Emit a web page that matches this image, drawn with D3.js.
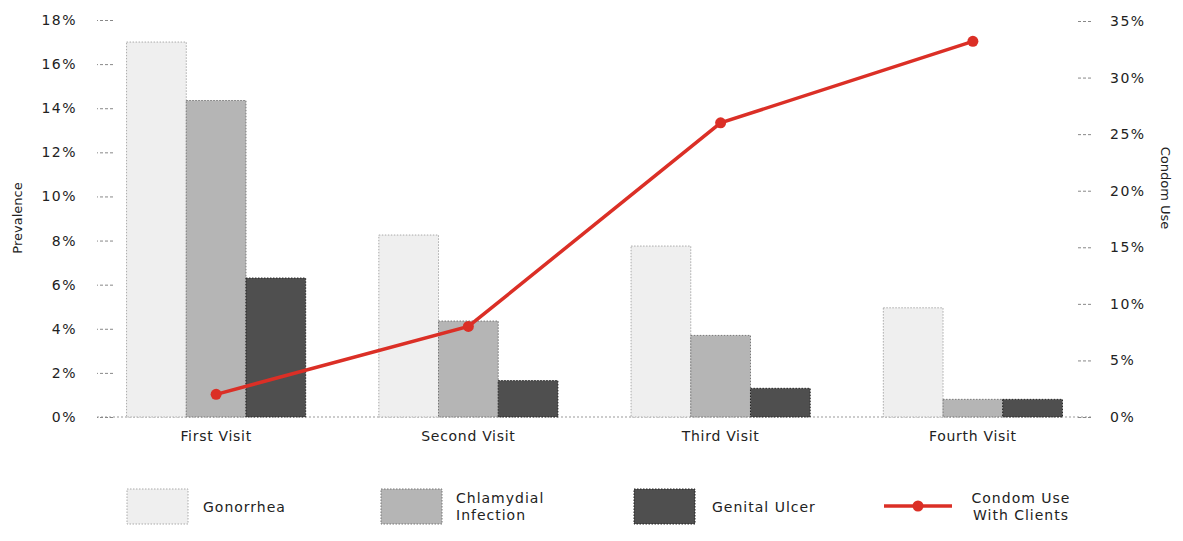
<!DOCTYPE html>
<html>
<head>
<meta charset="utf-8">
<script src="https://cdn.jsdelivr.net/npm/d3@7"></script>
<style>
  body { margin: 0; background: #fff; }
  text { font-family: 'DejaVu Sans', sans-serif; fill: #222; }
</style>
</head>
<body>
<div id="canvas"></div>
<script>
const visits = ['First Visit', 'Second Visit', 'Third Visit', 'Fourth Visit']
const diseases = ['Gonorrhea', 'Chlamydial Infection', 'Genital Ulcer']
const gonorrhea = [17.0, 8.25, 7.75, 4.95]
const chlamydial = [14.35, 4.35, 3.7, 0.8]
const ulcer = [6.3, 1.65, 1.3, 0.8]
const condomUse = [2.0, 8.0, 26.0, 33.2]
const leftTicks = [0, 2, 4, 6, 8, 10, 12, 14, 16, 18]
const rightTicks = [0, 5, 10, 15, 20, 25, 30, 35]

const width = 1183
const height = 541

const svg = d3.select('#canvas').append('svg')
  .attr('width', width)
  .attr('height', height)

const styles = [
  { fill: '#efefef', stroke: '#aaa' },
  { fill: '#b5b5b5', stroke: '#777' },
  { fill: '#4f4f4f', stroke: '#222' },
]
const red = '#db2f26'

const x0 = d3.scaleBand().domain(visits).range([90, 1099]).paddingInner(0.29).paddingOuter(0.145)
const x1 = d3.scaleBand().domain(diseases).range([0, x0.bandwidth()])
const yL = d3.scaleLinear().domain([0, 18]).range([417, 20])
const yR = d3.scaleLinear().domain([0, 35]).range([417, 21])

const series = [gonorrhea, chlamydial, ulcer]

// baseline
svg.append('line')
  .attr('x1', 97).attr('x2', 1092)
  .attr('y1', yL(0)).attr('y2', yL(0))
  .attr('stroke', '#999').attr('stroke-dasharray', '2,2')

// left axis
const axL = svg.append('g').attr('transform', 'translate(113,0)')
  .call(d3.axisLeft(yL).tickValues(leftTicks).tickFormat(d => d + '%').tickSize(16).tickPadding(20))
axL.select('.domain').remove()
axL.selectAll('line').attr('stroke', '#888').attr('stroke-dasharray', '3,2')
axL.selectAll('text').style('font-size', '14px').attr('fill', '#222').style('letter-spacing', '1.5px')
  .attr('font-family', null)

// right axis
const axR = svg.append('g').attr('transform', 'translate(1078,0)')
  .call(d3.axisRight(yR).tickValues(rightTicks).tickFormat(d => d + '%').tickSize(14).tickPadding(18))
axR.select('.domain').remove()
axR.selectAll('line').attr('stroke', '#888').attr('stroke-dasharray', '3,2')
axR.selectAll('text').style('font-size', '14px').attr('fill', '#222').style('letter-spacing', '1.5px')
  .attr('font-family', null)

// bars
series.forEach((vals, i) => {
  svg.append('g').selectAll('rect').data(vals).enter().append('rect')
    .attr('x', (d, j) => x0(visits[j]) + x1(diseases[i]))
    .attr('y', d => yL(d))
    .attr('width', x1.bandwidth())
    .attr('height', d => yL(0) - yL(d))
    .attr('fill', styles[i].fill)
    .attr('stroke', styles[i].stroke)
    .attr('stroke-dasharray', '1.5,1.5')
})

// x labels
svg.append('g').selectAll('text').data(visits).enter().append('text')
  .attr('x', d => x0(d) + x0.bandwidth() / 2)
  .attr('y', 441)
  .attr('text-anchor', 'middle')
  .style('font-size', '14px')
  .style('letter-spacing', '0.7px')
  .text(d => d)

// condom line
const line = d3.line()
  .x((d, j) => x0(visits[j]) + x0.bandwidth() / 2)
  .y(d => yR(d))
svg.append('path').datum(condomUse)
  .attr('d', line)
  .attr('fill', 'none')
  .attr('stroke', red)
  .attr('stroke-width', 3.5)
svg.append('g').selectAll('circle').data(condomUse).enter().append('circle')
  .attr('cx', (d, j) => x0(visits[j]) + x0.bandwidth() / 2)
  .attr('cy', d => yR(d))
  .attr('r', 5.5)
  .attr('fill', red)

// axis titles
svg.append('text')
  .attr('transform', 'translate(22,218) rotate(-90)')
  .attr('text-anchor', 'middle')
  .style('font-size', '13px')
  .text('Prevalence')
svg.append('text')
  .attr('transform', 'translate(1161,188) rotate(90)')
  .attr('text-anchor', 'middle')
  .style('font-size', '13px')
  .text('Condom Use')

// legend
const legY = 489
const legSw = [127, 381, 634]
const legTx = [203, 456, 712]
const legLabels = [['Gonorrhea'], ['Chlamydial', 'Infection'], ['Genital Ulcer']]
legSw.forEach((lx, i) => {
  svg.append('rect')
    .attr('x', lx).attr('y', legY)
    .attr('width', 61).attr('height', 35)
    .attr('fill', styles[i].fill)
    .attr('stroke', styles[i].stroke)
    .attr('stroke-dasharray', '1.5,1.5')
  const t = svg.append('text')
    .attr('y', legLabels[i].length === 1 ? 512 : 503)
    .style('font-size', '14px')
    .style('letter-spacing', '1px')
  legLabels[i].forEach((s, k) => {
    t.append('tspan').attr('x', legTx[i]).attr('dy', k === 0 ? 0 : 17).text(s)
  })
})
svg.append('line')
  .attr('x1', 884).attr('x2', 952)
  .attr('y1', 506).attr('y2', 506)
  .attr('stroke', red).attr('stroke-width', 3.5)
svg.append('circle').attr('cx', 918).attr('cy', 506).attr('r', 5.5).attr('fill', red)
const ct = svg.append('text')
  .attr('x', 1021).attr('y', 503)
  .attr('text-anchor', 'middle')
  .style('font-size', '14px')
  .style('letter-spacing', '1px')
ct.append('tspan').attr('x', 1021).text('Condom Use')
ct.append('tspan').attr('x', 1021).attr('dy', 17).text('With Clients')
</script>
</body>
</html>
